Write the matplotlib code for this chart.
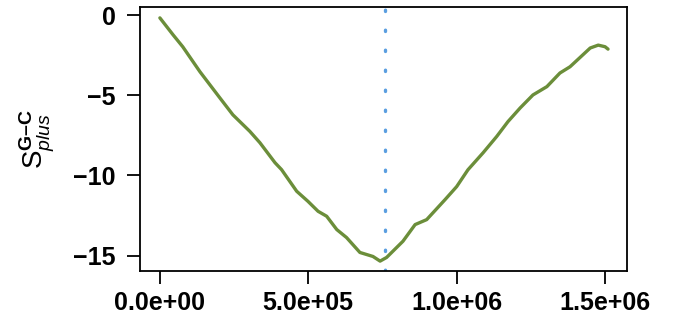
import numpy as np
import matplotlib
matplotlib.use("Agg")
import matplotlib.pyplot as plt

plt.rcParams['font.family'] = 'Liberation Sans'
plt.rcParams['mathtext.fontset'] = 'custom'
plt.rcParams['mathtext.rm'] = 'Liberation Sans'
plt.rcParams['mathtext.it'] = 'Liberation Sans:italic'
plt.rcParams['mathtext.bf'] = 'Liberation Sans:bold'

# cumulative skew along the sequence
pos = [0, 45e3, 77e3, 135e3, 202e3, 246e3, 303e3, 337e3, 388e3, 410e3,
       461e3, 499e3, 533e3, 562e3, 596e3, 629e3, 674e3, 718e3, 742e3, 764e3,
       819e3, 860e3, 899e3, 961e3, 1000e3, 1038e3, 1089e3, 1135e3, 1173e3,
       1214e3, 1257e3, 1304e3, 1348e3, 1382e3, 1450e3, 1477e3, 1500e3, 1510e3]
skew = [-0.17, -1.24, -1.97, -3.53, -5.16, -6.22, -7.25, -7.96, -9.21, -9.64,
        -10.99, -11.62, -12.24, -12.55, -13.38, -13.88, -14.81, -15.06, -15.35,
        -15.12, -14.11, -13.07, -12.76, -11.51, -10.70, -9.65, -8.59, -7.57,
        -6.64, -5.79, -4.98, -4.46, -3.61, -3.22, -2.05, -1.87, -1.97, -2.12]
origin = 758e3

xticks = [0, 5e5, 1e6, 1.5e6]
xlabels = ['0.0e+00', '5.0e+05', '1.0e+06', '1.5e+06']
yticks = [0, -5, -10, -15]

fig = plt.figure(figsize=(6.74, 3.25), dpi=100)
ax = fig.add_axes([0.2077, 0.166, 0.7226, 0.812])

ax.plot(pos, skew, color='#6b8e3a', lw=2.4, solid_capstyle='round')
ax.axvline(origin, color='#5a9ee0', lw=2.4, linestyle=(0, (0.4, 5.6)),
           dash_capstyle='round')

ax.set_xlim(-0.067e6, 1.574e6)
ax.set_ylim(-15.97, 0.5)
ax.set_xticks(xticks)
ax.set_xticklabels(xlabels)
ax.set_yticks(yticks)
ax.set_yticklabels(['0', '\u22125', '\u221210', '\u221215'])

for lab in ax.get_xticklabels() + ax.get_yticklabels():
    lab.set_fontweight('bold')
    lab.set_fontsize(18)
ax.tick_params(direction='out', length=9.5, width=1.3)
ax.tick_params(axis='y', pad=8)
ax.tick_params(axis='x', pad=5)

for s in ax.spines.values():
    s.set_linewidth(1.3)

ylab = r'$\mathrm{S}^{\mathbf{G' + '\u2013' + r'C}}_{\mathit{plus}}$'
ax.set_ylabel(ylab, fontsize=20)
ax.yaxis.set_label_coords(-0.17, 0.5)

fig.savefig('out.png', dpi=100)
